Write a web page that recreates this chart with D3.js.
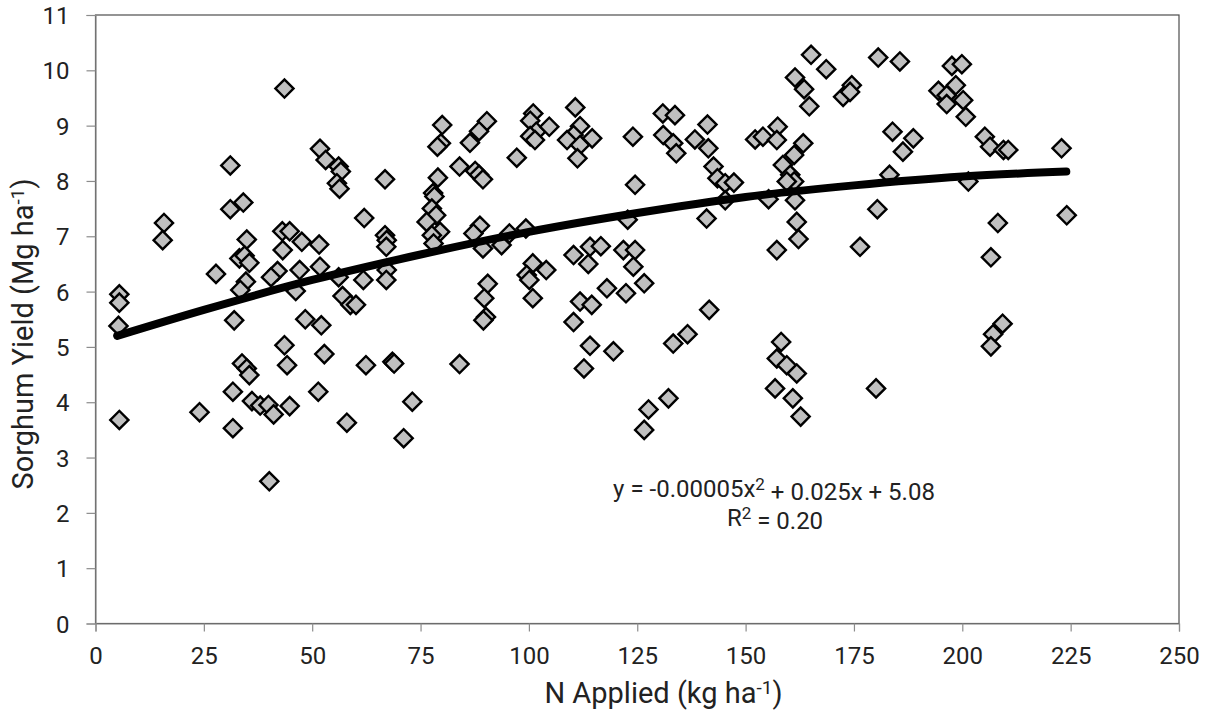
<!DOCTYPE html>
<html>
<head>
<meta charset="utf-8">
<script src="https://cdn.jsdelivr.net/npm/d3@7"></script>
<style>
  html, body { margin: 0; padding: 0; background: #fff; }
  svg { display: block; }
  text { font-family: Roboto, "Open Sans", sans-serif; fill: #222; }
</style>
</head>
<body>
<svg id="chart" width="1211" height="710"></svg>
<script>
// ---- data ----
const nApplied = [
  43.6,51.8,53.1,56.1,56.6,55.7,56.3,62.0,31.1,31.1,34.1,15.8,15.5,34.9,33.2,34.4,35.5,27.8,34.7,33.4,
  43.1,44.8,43.2,47.6,51.6,42.0,40.5,47.1,51.8,46.2,56.1,61.8,57.0,58.8,60.1,5.5,5.5,5.3,32.0,48.4,
  52.1,43.6,44.2,52.8,62.4,33.8,34.9,35.5,31.7,51.4,36.1,38.0,39.9,41.1,44.8,24.0,5.5,31.7,58.0,40.1,
  80.0,79.7,78.9,90.3,88.5,86.4,84.0,87.6,88.5,89.4,101.0,100.3,101.7,100.3,101.4,104.7,97.2,110.7,111.8,110.3,
  108.8,111.8,114.6,111.2,66.8,79.0,77.9,78.2,77.6,78.6,76.4,79.5,77.6,78.0,66.8,67.2,67.1,67.2,67.1,88.7,
  87.2,89.4,93.7,95.5,99.3,100.9,104.0,99.5,100.1,100.9,90.5,89.7,90.1,89.5,110.3,114.1,116.6,113.7,111.8,114.5,
  118.0,122.4,110.3,114.1,119.5,112.7,121.8,68.5,68.9,84.0,73.1,71.1,
  165.1,168.6,161.4,163.5,164.7,180.6,185.6,174.5,172.5,174.1,130.9,133.7,131.0,133.3,134.0,141.2,138.3,141.4,142.6,143.5,
  145.3,147.3,145.3,141.0,152.2,154.0,157.4,157.2,163.3,158.6,161.2,160.3,161.2,159.5,155.3,161.4,161.8,162.2,157.2,176.4,
  183.2,180.4,183.9,186.3,124.0,124.5,122.8,124.5,124.1,126.6,141.6,136.6,133.3,158.2,157.2,159.5,161.8,156.8,160.9,162.7,
  180.1,132.2,127.6,126.6,
  197.6,199.9,194.5,198.5,196.4,196.4,200.2,200.8,188.7,205.2,206.4,209.5,210.6,222.9,201.4,208.2,224.1,206.6,209.3,207.1,
  206.6
];
const sorghumYield = [
  9.67,8.58,8.38,8.26,8.17,7.96,7.86,7.33,8.28,7.49,7.61,7.24,6.93,6.94,6.60,6.65,6.52,6.32,6.18,6.03,
  7.09,7.09,6.75,6.90,6.85,6.37,6.26,6.39,6.45,6.01,6.26,6.21,5.92,5.76,5.76,5.95,5.80,5.38,5.48,5.50,
  5.39,5.03,4.67,4.87,4.67,4.70,4.61,4.49,4.19,4.19,4.02,3.94,3.95,3.78,3.93,3.82,3.68,3.53,3.63,2.57,
  9.01,8.68,8.62,9.08,8.90,8.69,8.26,8.18,8.11,8.03,9.22,9.09,8.89,8.81,8.74,8.98,8.42,9.33,8.99,8.83,
  8.74,8.65,8.77,8.41,8.03,8.06,7.78,7.72,7.50,7.38,7.26,7.08,7.02,6.87,7.02,6.93,6.81,6.39,6.21,7.19,
  7.05,6.78,6.84,7.05,7.14,6.51,6.39,6.30,6.21,5.88,6.14,5.88,5.54,5.48,6.66,6.81,6.82,6.50,5.82,5.76,
  6.06,5.97,5.45,5.02,4.92,4.61,6.75,4.73,4.70,4.69,4.01,3.35,
  10.28,10.02,9.87,9.66,9.35,10.23,10.16,9.73,9.52,9.61,9.22,9.19,8.83,8.68,8.50,9.02,8.75,8.59,8.26,8.05,
  7.96,7.97,7.65,7.32,8.75,8.80,8.98,8.74,8.68,8.29,8.47,8.11,7.99,7.99,7.67,7.65,7.26,6.95,6.75,6.81,
  8.11,7.49,8.89,8.53,8.80,7.93,7.30,6.75,6.45,6.15,5.67,5.23,5.06,5.09,4.79,4.67,4.52,4.25,4.07,3.74,
  4.25,4.07,3.87,3.50,
  10.08,10.11,9.63,9.73,9.55,9.39,9.46,9.16,8.77,8.80,8.62,8.56,8.56,8.59,7.99,7.24,7.38,6.62,5.42,5.23,
  5.01
];
// polynomial trendline, points
const trendX = [5, 25, 50, 75, 100, 125, 150, 175, 200, 224];
const trendY = [5.20, 5.67, 6.21, 6.67, 7.08, 7.42, 7.71, 7.92, 8.08, 8.17];
const xTicks = [0, 25, 50, 75, 100, 125, 150, 175, 200, 225, 250];
const yTicks = [0, 1, 2, 3, 4, 5, 6, 7, 8, 9, 10, 11];
const equationText = "y = -0.00005x";
const equationRest = " + 0.025x + 5.08";
const r2Value = "0.20";

// ---- layout ----
const svg = d3.select("#chart");
const plotL = 95.5, plotR = 1179, plotT = 15, plotB = 623.5;
const x = d3.scaleLinear().domain([0, 250]).range([plotL, plotR]);
const y = d3.scaleLinear().domain([0, 11]).range([plotB, plotT]);

// plot frame (top & right border)
svg.append("rect")
  .attr("x", plotL).attr("y", plotT)
  .attr("width", plotR - plotL).attr("height", plotB - plotT)
  .attr("fill", "none").attr("stroke", "#4d4d4d").attr("stroke-width", 1.2);

// axes
const yAxis = svg.append("g").attr("transform", `translate(${plotL},0)`)
  .call(d3.axisLeft(y).tickValues(yTicks).tickSize(9).tickPadding(17).tickFormat(d3.format("d")));
const xAxis = svg.append("g").attr("transform", `translate(0,${plotB})`)
  .call(d3.axisBottom(x).tickValues(xTicks).tickSize(8).tickPadding(15).tickFormat(d3.format("d")));
[yAxis, xAxis].forEach(g => {
  g.select(".domain").attr("stroke", "#8c8c8c").attr("stroke-width", 1.2);
  g.selectAll(".tick line").attr("stroke", "#8c8c8c").attr("stroke-width", 1.2);
  g.selectAll(".tick text").style("font-family", "Roboto, sans-serif").style("font-size", "24px").attr("fill", "#222");
});
yAxis.selectAll(".tick text").attr("dy", "0.36em");

// points (diamonds)
const pts = nApplied.map((v, i) => ({ n: v, yld: sorghumYield[i] }));
const diamond = d3.symbol().type(d3.symbolSquare).size(165);
svg.append("g").selectAll("path").data(pts).join("path")
  .attr("d", diamond)
  .attr("transform", d => `translate(${x(d.n)},${y(d.yld)}) rotate(45)`)
  .attr("fill", "#c0c0c0")
  .attr("stroke", "#000")
  .attr("stroke-width", 2.4);

// trendline
const trend = trendX.map((v, i) => [v, trendY[i]]);
svg.append("path")
  .datum(trend)
  .attr("d", d3.line().x(d => x(d[0])).y(d => y(d[1])).curve(d3.curveMonotoneX))
  .attr("fill", "none").attr("stroke", "#000").attr("stroke-width", 8)
  .attr("stroke-linecap", "round").attr("stroke-linejoin", "round");

// equation
const eq = svg.append("text").attr("x", 774).attr("y", 497)
  .attr("text-anchor", "middle").style("font-size", "24px");
eq.append("tspan").text(equationText);
eq.append("tspan").attr("dy", "-0.42em").style("font-size", "17px").text("2");
eq.append("tspan").attr("dy", "0.42em").text(equationRest);

const r2 = svg.append("text").attr("x", 775).attr("y", 526)
  .attr("text-anchor", "middle").style("font-size", "24px");
r2.append("tspan").text("R");
r2.append("tspan").attr("dy", "-0.42em").style("font-size", "17px").text("2");
r2.append("tspan").attr("dy", "0.42em").text(" = " + r2Value);

// axis titles
const xt = svg.append("text").attr("x", 663.5).attr("y", 703)
  .attr("text-anchor", "middle").style("font-size", "29px");
xt.append("tspan").text("N Applied (kg ha");
xt.append("tspan").attr("dy", "-0.45em").style("font-size", "19px").text("-1");
xt.append("tspan").attr("dy", "0.3em").text(")");

const yt = svg.append("text")
  .attr("transform", "translate(33,334) rotate(-90)")
  .attr("text-anchor", "middle").style("font-size", "29px");
yt.append("tspan").text("Sorghum Yield (Mg ha");
yt.append("tspan").attr("dy", "-0.45em").style("font-size", "19px").text("-1");
yt.append("tspan").attr("dy", "0.3em").text(")");
</script>
</body>
</html>
